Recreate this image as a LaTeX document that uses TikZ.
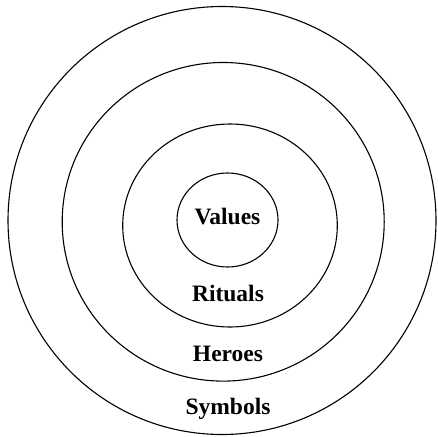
\documentclass[tikz,border=0pt]{standalone}
\usepackage{fontspec}
\setmainfont{Liberation Serif}
\begin{document}
\begin{tikzpicture}[x=1pt,y=-1pt,
  ring/.style={draw=black,line width=1.1pt},
  lab/.style={font=\fontsize{23.5}{25}\selectfont\bfseries,inner sep=0pt,anchor=base}]
\useasboundingbox (0,0) rectangle (438,436);
\fill[white] (0,0) rectangle (438,436);
\draw[ring] (222,220.5) ellipse [x radius=214, y radius=214];
\draw[ring] (223.2,221.8) ellipse [x radius=161, y radius=159.3];
\draw[ring] (230,225.5) ellipse [x radius=107.3, y radius=101.5];
\draw[ring] (227.5,220) ellipse [x radius=50.5, y radius=47];
\node[lab] (values) at (227.5,224.5) {Values};
\node[lab] (rituals) at (228,301) {Rituals};
\node[lab] (heroes) at (228,361) {Heroes};
\node[lab] (symbols) at (228,414) {Symbols};
\end{tikzpicture}
\end{document}
